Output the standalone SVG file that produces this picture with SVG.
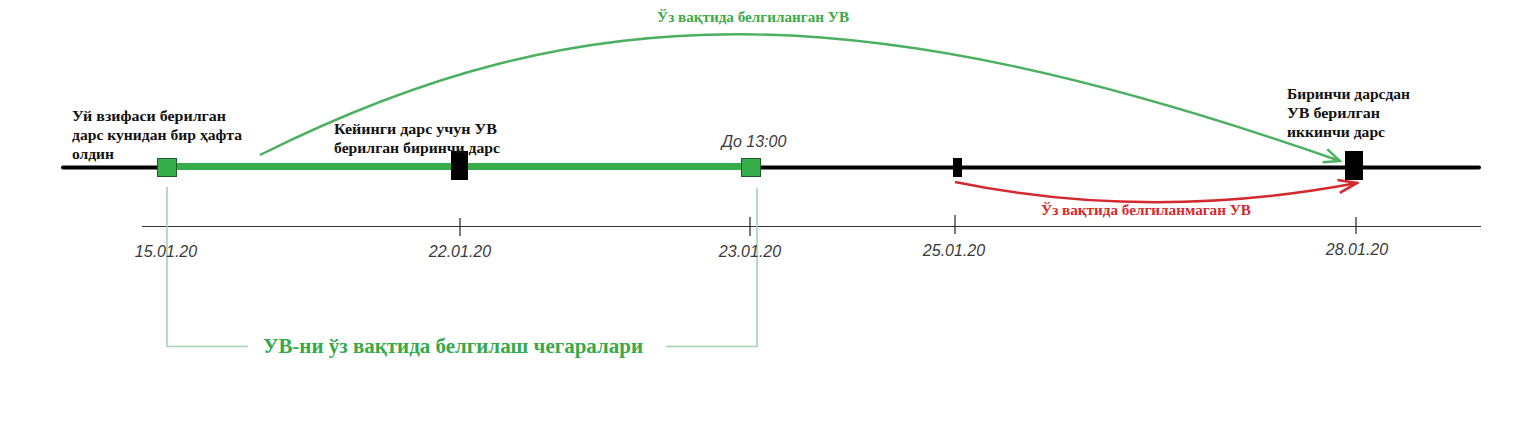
<svg xmlns="http://www.w3.org/2000/svg" width="1533" height="422" viewBox="0 0 1533 422">
<style>
.lbl{font-family:"Liberation Serif","Times New Roman","DejaVu Serif",serif;font-weight:bold;font-size:15px;fill:#111}
.date{font-family:"Liberation Sans",Arial,sans-serif;font-style:italic;font-size:16px;fill:#3a3a3a;text-anchor:middle}
.gtxt{font-family:"Liberation Serif","Times New Roman","DejaVu Serif",serif;font-weight:bold;font-size:15px;fill:#3aaa4a}
.rtxt{font-family:"Liberation Serif","Times New Roman","DejaVu Serif",serif;font-weight:bold;font-size:15px;fill:#d42a2e}
.btxt{font-family:"Liberation Serif","Times New Roman","DejaVu Serif",serif;font-weight:bold;font-size:22px;fill:#36a94a}
.gsq{fill:#38ad4b;stroke:#1f5a2a;stroke-width:1}
.blk{fill:#000}
.tick{stroke:#222;stroke-width:1.2}
.brk{stroke:#a6d3b0;stroke-width:1.6;fill:none}
</style>
<defs>
<marker id="ag" viewBox="0 0 20 20" markerUnits="userSpaceOnUse" markerWidth="20" markerHeight="20" refX="18" refY="10" orient="auto">
<path d="M2,3 L18,10 L2,17" fill="none" stroke="#4cb060" stroke-width="2.4"/>
</marker>
<marker id="ar" viewBox="0 0 20 20" markerUnits="userSpaceOnUse" markerWidth="22" markerHeight="22" refX="18" refY="10" orient="auto">
<path d="M1,4 L18,10 L1,16" fill="none" stroke="#d42a2e" stroke-width="2.4"/>
</marker>
</defs>
<rect width="1533" height="422" fill="#fff"/>

<g id="axes">
<line x1="63" y1="167.5" x2="1479" y2="167.5" stroke="#000" stroke-width="4" stroke-linecap="round"/>
<line x1="167" y1="166.5" x2="751" y2="166.5" stroke="#36ad4a" stroke-width="7"/>
<line x1="142" y1="226.5" x2="1481" y2="226.5" stroke="#333" stroke-width="1.2"/>
<line class="tick" x1="460" y1="218" x2="460" y2="236"/>
<line class="tick" x1="750" y1="217" x2="750" y2="236"/>
<line class="tick" x1="955" y1="215" x2="955" y2="234"/>
<line class="tick" x1="1356" y1="217" x2="1356" y2="234"/>
</g>

<g id="connectors">
<path d="M260,155 C584,-7 860,-7 1340,161" fill="none" stroke="#4cb060" stroke-width="2.4" marker-end="url(#ag)"/>
<path d="M955,182 Q1150,222 1357,183" fill="none" stroke="#d42a2e" stroke-width="2.4" marker-end="url(#ar)"/>
<path class="brk" d="M167,187 V346.5 H248"/>
<path class="brk" d="M757,188 V346.5 H666"/>
</g>

<g id="n-1501">
<rect class="gsq" x="157.5" y="158.5" width="19" height="18"/>
<text class="lbl" x="72" y="121" textLength="154" lengthAdjust="spacingAndGlyphs">Уй взифаси берилган</text>
<text class="lbl" x="72" y="140" textLength="170" lengthAdjust="spacingAndGlyphs">дарс кунидан бир ҳафта</text>
<text class="lbl" x="72" y="159" textLength="42" lengthAdjust="spacingAndGlyphs">олдин</text>
<text class="date" x="166" y="257">15.01.20</text>
</g>

<g id="n-2201">
<rect class="blk" x="451" y="151" width="17" height="29"/>
<text class="lbl" x="334" y="134" textLength="163" lengthAdjust="spacingAndGlyphs">Кейинги дарс учун УВ</text>
<text class="lbl" x="334" y="153" textLength="166" lengthAdjust="spacingAndGlyphs">берилган биринчи дарс</text>
<text class="date" x="460" y="257">22.01.20</text>
</g>

<g id="n-2301">
<rect class="gsq" x="741.5" y="158.5" width="19" height="18"/>
<text class="date" x="754" y="147">До 13:00</text>
<text class="date" x="750" y="257">23.01.20</text>
</g>

<g id="n-2501">
<rect class="blk" x="953" y="158" width="9" height="19"/>
<text class="date" x="954" y="256">25.01.20</text>
</g>

<g id="n-2801">
<rect class="blk" x="1345" y="151" width="18" height="29"/>
<text class="lbl" x="1287" y="99" textLength="123" lengthAdjust="spacingAndGlyphs">Биринчи дарсдан</text>
<text class="lbl" x="1287" y="118" textLength="93" lengthAdjust="spacingAndGlyphs">УВ берилган</text>
<text class="lbl" x="1287" y="137" textLength="98" lengthAdjust="spacingAndGlyphs">иккинчи дарс</text>
<text class="date" x="1357" y="255">28.01.20</text>
</g>

<g id="labels">
<text class="gtxt" x="657" y="22" textLength="192" lengthAdjust="spacingAndGlyphs">Ўз вақтида белгиланган УВ</text>
<text class="rtxt" x="1041" y="215" textLength="210" lengthAdjust="spacingAndGlyphs">Ўз вақтида белгиланмаган УВ</text>
<text class="btxt" x="263" y="353" textLength="380" lengthAdjust="spacingAndGlyphs">УВ-ни ўз вақтида белгилаш чегаралари</text>
</g>
</svg>
